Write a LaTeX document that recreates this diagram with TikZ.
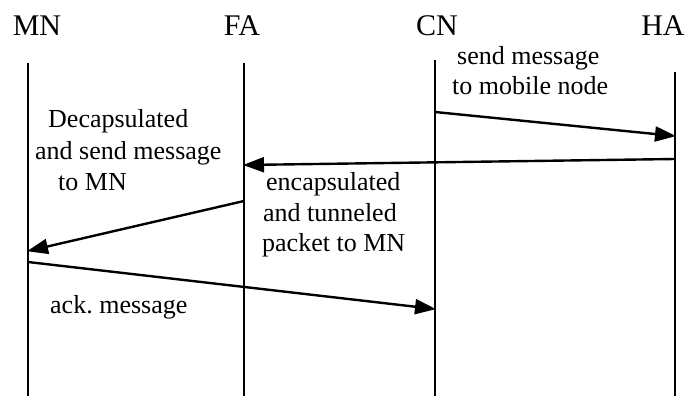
\documentclass[tikz,border=0pt]{standalone}
\usepackage{fontspec}
\setmainfont{Liberation Serif}
\usetikzlibrary{arrows.meta}
\tikzset{
  title/.style={anchor=base, inner sep=0pt, font=\fontsize{30}{34}\selectfont},
  lbl/.style={anchor=base west, inner sep=0pt, font=\fontsize{26}{30}\selectfont},
  life/.style={line width=2.4pt},
  msg/.style={line width=2.4pt, -{Triangle[length=21pt,width=15pt]}, shorten >=-1pt}
}
\begin{document}
\begin{tikzpicture}[x=1pt,y=-1pt]
\useasboundingbox (0,0) rectangle (697,396);
% headers
\node[title] (mn) at (37,36) {MN};
\node[title] (fa) at (242,36) {FA};
\node[title] (cn) at (437,36) {CN};
\node[title] (ha) at (663,36) {HA};
% lifelines
\coordinate (mnT) at (28,63);  \coordinate (mnB) at (28,396);
\coordinate (faT) at (244,63); \coordinate (faB) at (244,396);
\coordinate (cnT) at (435,60); \coordinate (cnB) at (435,396);
\coordinate (haT) at (675,72); \coordinate (haB) at (675,396);
\draw[life] (mnT) -- (mnB);
\draw[life] (faT) -- (faB);
\draw[life] (cnT) -- (cnB);
\draw[life] (haT) -- (haB);
% message end points
\coordinate (m1s) at (435,112); \coordinate (m1e) at (675,136);
\coordinate (m2s) at (675,159); \coordinate (m2e) at (244,165);
\coordinate (m3s) at (244,201); \coordinate (m3e) at (28,251);
\coordinate (m4s) at (28,262);  \coordinate (m4e) at (435,309);
\draw[msg] (m1s) -- (m1e);
\draw[msg] (m2s) -- (m2e);
\draw[msg] (m3s) -- (m3e);
\draw[msg] (m4s) -- (m4e);
% labels
\node[lbl] (s1) at (457,65) {send message};
\node[lbl] (s2) at (452,95) {to mobile node};
\node[lbl] (d1) at (48,128) {Decapsulated};
\node[lbl] (d2) at (35,160) {and send message};
\node[lbl] (d3) at (58,190) {to MN};
\node[lbl] (e1) at (266,190) {encapsulated};
\node[lbl] (e2) at (263,221) {and tunneled};
\node[lbl] (e3) at (262,251) {packet to MN};
\node[lbl] (a1) at (50,313) {ack.\ message};
\end{tikzpicture}
\end{document}
